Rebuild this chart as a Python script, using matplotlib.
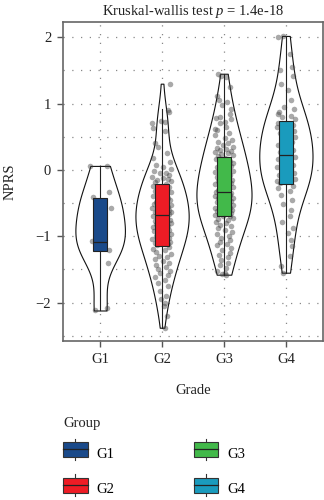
import numpy as np
import matplotlib
matplotlib.use("Agg")
from matplotlib import pyplot as plt
from matplotlib.legend_handler import HandlerBase
from matplotlib.patches import Rectangle
from matplotlib.lines import Line2D

plt.rcParams['font.family'] = ['Liberation Serif', 'DejaVu Serif']
plt.rcParams['mathtext.fontset'] = 'custom'
plt.rcParams['mathtext.it'] = 'Liberation Serif:italic'
plt.rcParams['mathtext.rm'] = 'Liberation Serif'

groups = ['G1', 'G2', 'G3', 'G4']
colors = ['#1a4a8a', '#ee1c25', '#42b94a', '#1a9bbd']
p_text = '1.4e-18'

# box stats: low whisker, q1, median, q3, high whisker
whislo = [-2.12, -2.38, -1.58, -1.55]
q1 = [-1.22, -1.15, -0.70, -0.21]
med = [-1.08, -0.68, -0.33, 0.23]
q3 = [-0.42, -0.22, 0.20, 0.73]
whishi = [0.05, 0.92, 1.45, 2.02]

# jittered points (NPRS value, horizontal jitter); some G1 ones sit behind the box
g1_y = [0.06, 0.06, -0.41, -0.34, -0.57, -1.07, -1.21, -1.41, -2.12, -2.08,
        -0.48, -0.62, -0.78, -0.92, -1.02, -1.12, -1.18]
g1_dx = [-0.17, 0.11, -0.11, 0.15, 0.17, -0.13, 0.15, 0.12, -0.08, 0.11,
         0.03, -0.05, 0.06, -0.02, 0.04, -0.06, 0.01]

g2_y = [1.30, 0.90, 0.87, 0.73, 0.72, 0.70, 0.63, 0.58, 0.41, 0.35, 0.25, 0.18,
        0.12, 0.08, 0.05, 0.02, -0.02, -0.05, -0.05, -0.08, -0.10, -0.12, -0.14,
        -0.15, -0.17, -0.19, -0.21,
        -0.24, -0.26, -0.28, -0.30, -0.32, -0.34, -0.36, -0.38, -0.40, -0.42,
        -0.44, -0.46, -0.48, -0.50, -0.51, -0.53, -0.55, -0.56, -0.58, -0.59,
        -0.60, -0.62, -0.63, -0.64, -0.65, -0.66, -0.67,
        -0.70, -0.72, -0.74, -0.75, -0.77, -0.79, -0.80, -0.82, -0.84, -0.86,
        -0.87, -0.89, -0.90, -0.92, -0.94, -0.96, -0.97, -0.99, -1.00, -1.02,
        -1.04, -1.05, -1.07, -1.09, -1.10, -1.12, -1.14,
        -1.17, -1.19, -1.21, -1.24, -1.27, -1.30, -1.32, -1.35, -1.38, -1.40,
        -1.43, -1.46, -1.49, -1.52, -1.55, -1.58, -1.62, -1.66, -1.70, -1.75,
        -1.82, -1.90, -1.95, -2.00, -2.05, -2.20, -2.38]
g2_dx = [0.13, 0.09, 0.11, -0.02, 0.05, -0.17, -0.14, 0.04, -0.12, -0.06, 0.08, -0.15,
         0.13, -0.09, 0.02, 0.14, -0.13, 0.07, -0.04, 0.11, -0.16, 0.01, 0.09,
         -0.08, 0.15, -0.11, 0.06,
         -0.14, 0.12, -0.03, 0.08, -0.12, 0.14, -0.07, 0.03, -0.15, 0.10,
         -0.01, 0.13, -0.10, 0.06, -0.13, 0.15, -0.05, 0.09, -0.16, 0.02,
         0.12, -0.08, 0.14, -0.12, 0.05, -0.03, 0.11,
         -0.14, 0.08, -0.06, 0.13, -0.11, 0.03, 0.15, -0.09, 0.10, -0.15,
         0.04, -0.02, 0.12, -0.13, 0.07, -0.07, 0.14, -0.10, 0.01, 0.11,
         -0.16, 0.06, -0.04, 0.13, -0.12, 0.09, -0.08,
         0.12, -0.14, 0.05, -0.09, 0.14, -0.05, 0.08, -0.12, 0.02, 0.11,
         -0.10, 0.06, -0.07, 0.13, -0.03, 0.09, -0.11, 0.04, -0.06, 0.10,
         -0.04, 0.07, -0.02, 0.05, 0.03, 0.08, 0.04]

g3_y = [1.45, 1.42, 1.40, 1.25, 1.12, 1.05, 1.02, 0.98, 0.92, 0.85, 0.80, 0.78,
        0.76, 0.72, 0.70, 0.65, 0.62, 0.60, 0.55, 0.52, 0.48, 0.45, 0.42, 0.40,
        0.38, 0.35, 0.33, 0.31, 0.30, 0.28, 0.27, 0.25, 0.24, 0.22, 0.21,
        0.18, 0.16, 0.14, 0.12, 0.10, 0.08, 0.06, 0.05, 0.03, 0.01, -0.01, -0.03,
        -0.05, -0.07, -0.08, -0.10, -0.12, -0.14, -0.15, -0.17, -0.19, -0.20,
        -0.22, -0.23, -0.25, -0.26, -0.28, -0.29, -0.31, -0.32,
        -0.34, -0.35, -0.37, -0.38, -0.39, -0.41, -0.42, -0.43, -0.45, -0.46,
        -0.47, -0.49, -0.50, -0.51, -0.53, -0.54, -0.55, -0.57, -0.58, -0.59,
        -0.60, -0.62, -0.63, -0.64, -0.65, -0.66, -0.67, -0.68, -0.69, -0.69,
        -0.72, -0.74, -0.76, -0.78, -0.80, -0.83, -0.85, -0.88, -0.90, -0.93,
        -0.96, -0.99, -1.02, -1.05, -1.08, -1.11, -1.14, -1.18, -1.21, -1.25,
        -1.28, -1.32, -1.36, -1.40, -1.44, -1.48, -1.52, -1.55, -1.57, -1.58]
g3_dx = [-0.10, -0.05, 0.04, 0.09, -0.12, -0.08, 0.05, -0.03, 0.11, 0.10, -0.07, -0.13,
         0.12, 0.02, -0.06, 0.03, -0.14, -0.11, 0.08, -0.14, 0.01, 0.13, -0.09, 0.06,
         -0.02, 0.15, -0.12, 0.04, -0.07, 0.11, -0.15, 0.07, -0.04, 0.14, -0.10,
         0.02, -0.13, 0.09, -0.06, 0.15, -0.01, 0.12, -0.11, 0.05, -0.08, 0.14, -0.15,
         0.03, -0.05, 0.10, -0.12, 0.07, -0.03, 0.13, -0.09, 0.01, 0.11, -0.14, 0.06,
         -0.07, 0.15, -0.02, 0.08, -0.10, 0.04,
         -0.13, 0.12, -0.06, 0.09, -0.15, 0.02, 0.14, -0.09, 0.06, -0.04, 0.11, -0.12,
         0.03, -0.07, 0.15, -0.01, 0.08, -0.14, 0.10, -0.05, 0.13, -0.11, 0.05, -0.03,
         0.12, -0.08, 0.01, -0.15, 0.09, -0.02,
         0.14, -0.10, 0.07, -0.13, 0.04, -0.06, 0.11, -0.09, 0.02, 0.13, -0.12, 0.08,
         -0.04, 0.10, -0.07, 0.05, -0.11, 0.12, -0.03, 0.09, -0.08, 0.06, -0.05, 0.07,
         -0.06, 0.04, -0.12, 0.02, -0.03, 0.03]

g4_y = [2.02, 2.00, 1.75, 1.55, 1.50, 1.42, 1.30, 1.20, 1.05, 0.95, 0.92, 0.88,
        0.85, 0.82, 0.80, 0.76,
        0.70, 0.67, 0.65, 0.62, 0.58, 0.55, 0.52, 0.50, 0.46, 0.42, 0.38, 0.35,
        0.32, 0.30, 0.27, 0.25,
        0.20, 0.17, 0.14, 0.10, 0.07, 0.04, 0.01, -0.02, -0.05, -0.08, -0.10,
        -0.12, -0.14, -0.16, -0.18, -0.20,
        -0.24, -0.28, -0.32, -0.38, -0.45, -0.52, -0.60, -0.70, -0.78, -0.88,
        -0.95, -1.05, -1.15, -1.30, -1.45, -1.55]
g4_dx = [-0.05, -0.12, 0.06, 0.10, -0.10, 0.12, -0.08, 0.04, 0.09, -0.03, 0.13, -0.11,
         -0.13, 0.08, -0.06, 0.14,
         -0.12, 0.11, -0.14, 0.06, 0.13, -0.09, 0.03, 0.15, -0.07, 0.10, -0.13, 0.07,
         -0.04, 0.12, -0.10, 0.02,
         0.14, -0.13, 0.05, -0.08, 0.11, -0.15, 0.09, -0.03, 0.13, -0.11, 0.06,
         -0.06, 0.15, -0.14, 0.08, -0.09,
         0.12, -0.12, 0.07, -0.08, 0.10, -0.04, 0.09, 0.06, -0.07, 0.11,
         0.04, 0.08, 0.10, 0.06, -0.08, -0.05]

all_y = [g1_y, g2_y, g3_y, g4_y]
all_dx = [g1_dx, g2_dx, g3_dx, g4_dx]
pos = np.arange(1, len(groups) + 1)
vwidths = [0.80, 0.86, 0.89, 0.86]
vbw = [0.5, 0.38, 0.5, 0.45]

FS = 10.5


class BoxHandler(HandlerBase):
    def create_artists(self, legend, orig, xd, yd, width, height, fontsize, trans):
        fc = orig.get_facecolor()
        cy = yd + height / 2
        bh = height * 1.14
        cx = xd + width / 2
        arts = [
            Line2D([cx, cx], [cy - height * 0.83, cy + height * 0.83], color='#333333',
                   lw=0.8, transform=trans),
            Rectangle((xd, cy - bh / 2), width, bh, facecolor=fc, edgecolor='#333333',
                      lw=0.8, transform=trans),
            Line2D([xd, xd + width], [cy, cy], color='#222222', lw=0.9, transform=trans),
        ]
        return arts


fig = plt.figure(figsize=(3.24, 5.0), dpi=100)
ax = fig.add_axes([63 / 324, 1 - 341 / 500, 1 - 63 / 324 - 0.003, (341 - 22) / 500])

# violins
for i in range(len(groups)):
    vp = ax.violinplot([all_y[i]], positions=[pos[i]], widths=vwidths[i],
                       showextrema=False, bw_method=vbw[i], points=200)
    for body in vp['bodies']:
        body.set_facecolor('white')
        body.set_edgecolor('#111111')
        body.set_linewidth(0.8)
        body.set_alpha(1)
        body.set_zorder(2)

# jittered points
for i in range(len(groups)):
    ax.scatter(pos[i] + np.array(all_dx[i]), all_y[i], s=16, color='#404040',
               alpha=0.45, linewidths=0, zorder=3)

# boxplots
stats = []
for i, g in enumerate(groups):
    stats.append(dict(label=g, whislo=whislo[i], q1=q1[i], med=med[i],
                      q3=q3[i], whishi=whishi[i], fliers=[]))
bp = ax.bxp(stats, positions=pos, widths=0.23, patch_artist=True, showcaps=False,
            boxprops=dict(linewidth=0.8, edgecolor='#222222'),
            whiskerprops=dict(linewidth=0.8, color='#222222'),
            medianprops=dict(linewidth=0.9, color='#222222'), zorder=4)
for patch, c in zip(bp['boxes'], colors):
    patch.set_facecolor(c)

ax.set_xlim(0.4, 4.6)
ax.set_ylim(-2.58, 2.23)
ax.set_yticks([-2, -1, 0, 1, 2])
ax.set_yticklabels(['\u22122', '\u22121', '0', '1', '2'])
ax.set_yticks([-2.5, -1.5, -0.5, 0.5, 1.5], minor=True)
ax.set_xticks(pos)
ax.set_xticklabels(groups)
ax.grid(True, which='both', axis='y', color='#888888', linestyle=(0, (1, 6)), lw=0.9)
ax.grid(True, which='major', axis='x', color='#888888', linestyle=(0, (1, 6)), lw=0.9)
ax.set_axisbelow(True)
ax.tick_params(axis='both', which='major', length=4.5, width=1, color='#555555',
               labelsize=FS, labelcolor='#222222', pad=4)
ax.tick_params(axis='y', which='minor', length=0)
for s in ax.spines.values():
    s.set_color('#666666')
    s.set_linewidth(1.2)

ax.set_title('Kruskal-wallis test $\\it{p}$ = ' + p_text, fontsize=FS, pad=5, color='#222222')
ax.set_xlabel('Grade', fontsize=FS, labelpad=13, color='#222222')
ax.set_ylabel('NPRS', fontsize=FS, labelpad=14, color='#222222')

# legend
fig.text(63 / 324, 1 - 423 / 500, 'Group', fontsize=FS, ha='left', va='center',
         color='#222222')
handles = [Rectangle((0, 0), 1, 1, facecolor=c) for c in colors]
fig.legend(handles, groups, ncol=2, loc='upper left',
           bbox_to_anchor=(63 / 324, 1 - 446 / 500), frameon=False, borderpad=0,
           borderaxespad=0, fontsize=FS, handler_map={Rectangle: BoxHandler()},
           handlelength=1.7, handleheight=1.0, labelspacing=1.45,
           handletextpad=0.62, columnspacing=5.4)

fig.savefig('out.png', dpi=100)
